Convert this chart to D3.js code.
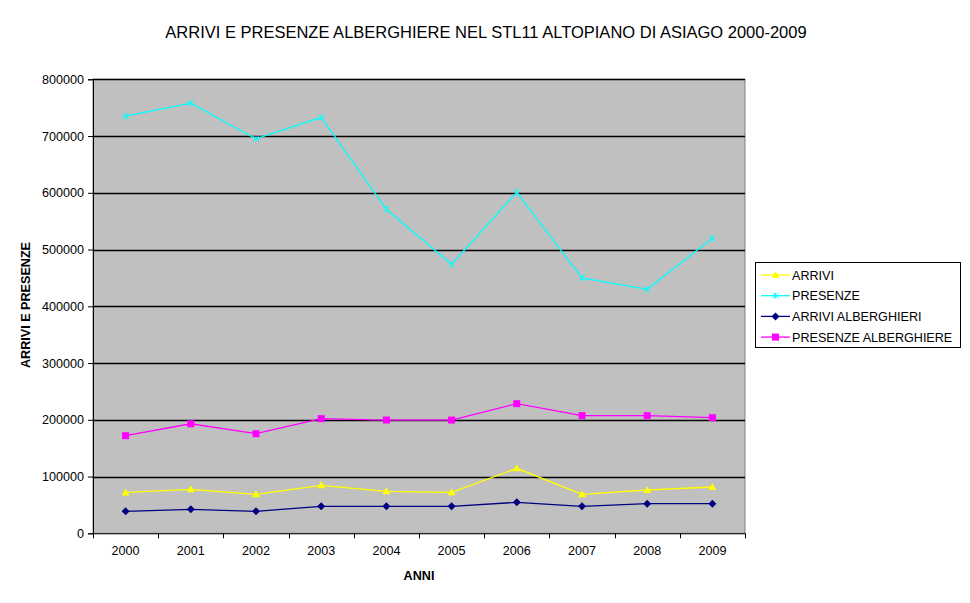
<!DOCTYPE html>
<html><head><meta charset="utf-8">
<script src="https://cdn.jsdelivr.net/npm/d3@7"></script>
<style>body{margin:0;background:#fff;} text{font-family:"Liberation Sans",Arial,sans-serif;}</style>
</head><body>
<svg id="c" width="970" height="603"></svg>
<script>
const years = ["2000","2001","2002","2003","2004","2005","2006","2007","2008","2009"];
const arrivi = [72000,77500,68700,84600,74000,72200,114500,68700,76300,81600];
const presenze = [735000,758000,695000,733000,571000,474000,601000,450000,430000,520000];
const arriviAlb = [38800,42300,38800,47600,47600,47600,54600,47600,52200,52200];
const presenzeAlb = [172000,193000,175500,202000,199600,199600,228400,207300,207300,203700];
const yTicks = [0,100000,200000,300000,400000,500000,600000,700000,800000];
const seriesNames = ["ARRIVI","PRESENZE","ARRIVI ALBERGHIERI","PRESENZE ALBERGHIERE"];
const seriesColors = ["#ffff00","#00ffff","#000080","#ff00ff"];
const seriesMarkers = ["triangle","x","diamond","square"];
const seriesData = [arrivi, presenze, arriviAlb, presenzeAlb];

const svg = d3.select("#c");
const L=93, R=745, T=79.3, B=533.3;
const x = d3.scaleBand().domain(years).range([L,R]);
const y = d3.scaleLinear().domain([0,800000]).range([B,T]);

svg.append("rect").attr("x",L).attr("y",T).attr("width",R-L).attr("height",B-T)
  .attr("fill","#c0c0c0").attr("stroke","#808080").attr("stroke-width",1);

// gridlines
svg.append("g").selectAll("line").data(yTicks.filter(d=>d>0)).join("line")
  .attr("x1",L).attr("x2",R).attr("y1",d=>Math.round(y(d))+0.5).attr("y2",d=>Math.round(y(d))+0.5)
  .attr("stroke","#000").attr("stroke-width",1.3);

// y axis
const ya = svg.append("g").attr("transform",`translate(${L},0)`)
  .call(d3.axisLeft(y).tickValues(yTicks).tickFormat(d3.format("d")).tickSizeOuter(0).tickSize(5).tickPadding(4));
ya.select(".domain").attr("stroke","#000");
ya.selectAll("line").attr("stroke","#000");
ya.selectAll("text").attr("font-size","12.6px").attr("fill","#000").style("font-family","Liberation Sans, Arial, sans-serif");

// x axis
const xa = svg.append("g").attr("transform",`translate(0,${B})`)
  .call(d3.axisBottom(x).tickSize(0).tickPadding(13));
xa.select(".domain").attr("stroke","#000");
xa.selectAll("text").attr("font-size","12.6px").attr("fill","#000").style("font-family","Liberation Sans, Arial, sans-serif");
// ticks at band boundaries
const bounds = years.map(d=>x(d)).concat([R]);
svg.append("g").selectAll("line").data(bounds).join("line")
  .attr("x1",d=>Math.round(d)+0.5).attr("x2",d=>Math.round(d)+0.5).attr("y1",B).attr("y2",B+5)
  .attr("stroke","#000");

const cx = d=>x(d)+x.bandwidth()/2;
const line = d3.line().x((v,i)=>cx(years[i])).y(v=>y(v));

function marker(g, type, color, px, py){
  if(type==="triangle"){
    g.append("path").attr("d",`M${px},${py-4}L${px+4},${py+3}L${px-4},${py+3}Z`).attr("fill",color);
  } else if(type==="square"){
    g.append("rect").attr("x",px-3.5).attr("y",py-3.5).attr("width",7).attr("height",7).attr("fill",color);
  } else if(type==="diamond"){
    g.append("path").attr("d",`M${px},${py-4}L${px+4},${py}L${px},${py+4}L${px-4},${py}Z`).attr("fill",color);
  } else {
    g.append("path").attr("d",`M${px-3},${py-3}L${px+3},${py+3}M${px-3},${py+3}L${px+3},${py-3}M${px},${py-3}L${px},${py+3}`)
      .attr("stroke",color).attr("stroke-width",1).attr("fill","none");
  }
}

seriesData.forEach((data,si)=>{
  const g = svg.append("g");
  g.append("path").datum(data).attr("d",line).attr("fill","none")
    .attr("stroke",seriesColors[si]).attr("stroke-width",1.3);
  data.forEach((v,i)=>marker(g, seriesMarkers[si], seriesColors[si], cx(years[i]), y(v)));
});

// title
svg.append("text").attr("x",486).attr("y",38).attr("text-anchor","middle")
  .attr("font-size","16.5px").text("ARRIVI E PRESENZE ALBERGHIERE NEL STL11 ALTOPIANO DI ASIAGO 2000-2009");
// axis titles
svg.append("text").attr("x",419).attr("y",580).attr("text-anchor","middle")
  .attr("font-size","12.6px").attr("font-weight","bold").text("ANNI");
svg.append("text").attr("transform","translate(30,305) rotate(-90)").attr("text-anchor","middle")
  .attr("font-size","12.6px").attr("font-weight","bold").text("ARRIVI E PRESENZE");

// legend
const lg = svg.append("g");
lg.append("rect").attr("x",755.5).attr("y",262.5).attr("width",205).attr("height",85)
  .attr("fill","#fff").attr("stroke","#000");
seriesNames.forEach((n,i)=>{
  const ly = 275 + i*20.7;
  lg.append("line").attr("x1",761).attr("x2",790).attr("y1",ly).attr("y2",ly).attr("stroke",seriesColors[i]).attr("stroke-width",1.3);
  marker(lg, seriesMarkers[i], seriesColors[i], 775.5, ly);
  lg.append("text").attr("x",792).attr("y",ly+4.5).attr("font-size","12.6px").text(n);
});
</script>
</body></html>
